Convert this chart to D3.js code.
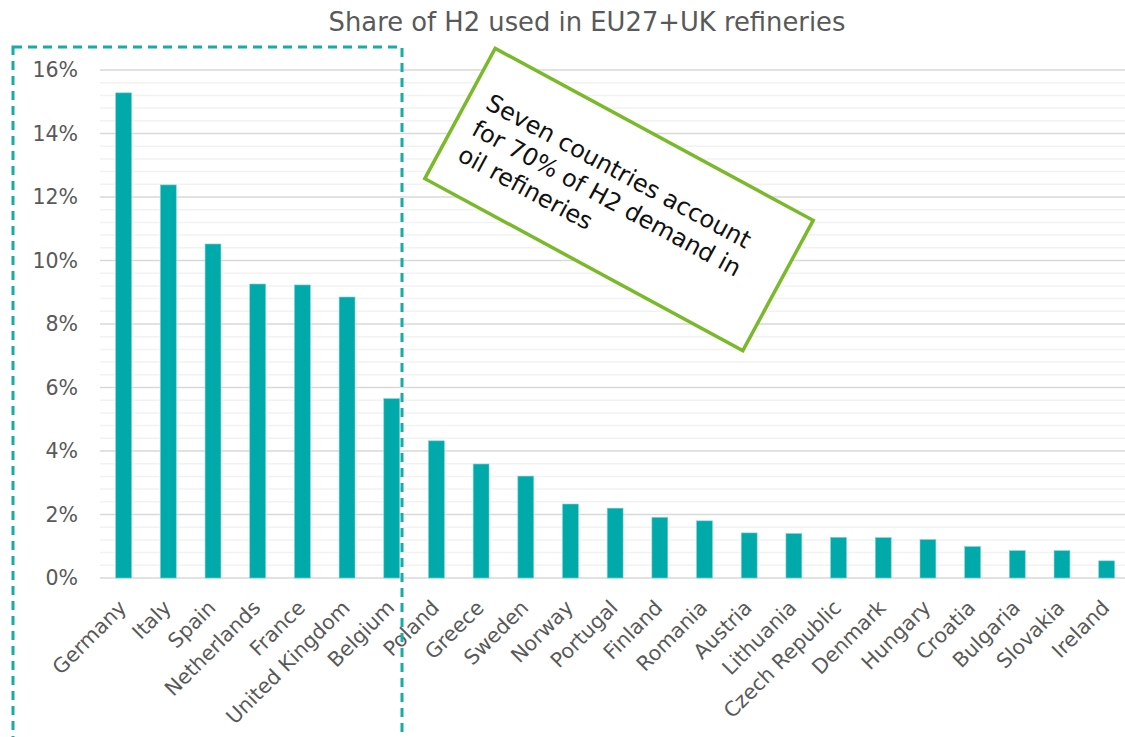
<!DOCTYPE html>
<html>
<head>
<meta charset="utf-8">
<script src="https://cdn.jsdelivr.net/npm/d3@7/dist/d3.min.js"></script>
<style>
  html, body { margin: 0; padding: 0; background: #fff; }
  svg { display: block; font-family: "DejaVu Sans", Verdana, sans-serif; }
</style>
</head>
<body>
<svg id="chart" width="1125" height="737"></svg>
<script>
// Countries, ordered by share of refinery hydrogen demand
const countries = ["Germany", "Italy", "Spain", "Netherlands", "France", "United Kingdom", "Belgium",
  "Poland", "Greece", "Sweden", "Norway", "Portugal", "Finland", "Romania", "Austria", "Lithuania",
  "Czech Republic", "Denmark", "Hungary", "Croatia", "Bulgaria", "Slovakia", "Ireland"];
// Share of H2 used in refineries (percent)
const shares = [15.28, 12.38, 10.52, 9.26, 9.23, 8.85, 5.65,
  4.32, 3.59, 3.21, 2.33, 2.20, 1.91, 1.80, 1.42, 1.40,
  1.28, 1.27, 1.21, 0.99, 0.86, 0.86, 0.54];
// Axis ticks (percent)
const majorTicks = [0, 2, 4, 6, 8, 10, 12, 14, 16];
const minorTicks = d3.range(0, 16.01, 0.4);
const titleText = "Share of H2 used in EU27+UK refineries";
const noteLines = ["Seven countries account", "for 70% of H2 demand in", "oil refineries"];

const svg = d3.select("#chart");
const W = 1125, H = 737;
const plot = { left: 100, right: 1128, top: 70, bottom: 578 };

const x = d3.scaleBand()
  .domain(countries)
  .range([102.3, 1128])
  .paddingInner(0.645)
  .paddingOuter(0.3);

const y = d3.scaleLinear().domain([0, 16]).range([plot.bottom, plot.top]);

svg.append("rect").attr("width", W).attr("height", H).attr("fill", "#fff");

// Title
svg.append("text")
  .attr("x", 587).attr("y", 31)
  .attr("text-anchor", "middle")
  .attr("font-size", 25.8)
  .attr("fill", "#595959")
  .text(titleText);

// Minor gridlines
svg.append("g").selectAll("line")
  .data(minorTicks.filter(v => Math.abs(v / 2 - Math.round(v / 2)) > 1e-6))
  .join("line")
  .attr("x1", plot.left).attr("x2", W)
  .attr("y1", d => y(d)).attr("y2", d => y(d))
  .attr("stroke", "#f2f2f2").attr("stroke-width", 1.5);

// Major gridlines
svg.append("g").selectAll("line")
  .data(majorTicks)
  .join("line")
  .attr("x1", plot.left).attr("x2", W)
  .attr("y1", d => y(d)).attr("y2", d => y(d))
  .attr("stroke", "#d9d9d9").attr("stroke-width", 1.5);

// Y axis labels
const yAxis = d3.axisLeft(y)
  .tickValues(majorTicks)
  .tickFormat(d => d + "%")
  .tickSize(0)
  .tickPadding(0);
const yg = svg.append("g").attr("transform", "translate(78,0)").call(yAxis);
yg.select(".domain").remove();
yg.selectAll("text")
  .attr("font-size", 20.5)
  .attr("fill", "#595959")
  .attr("font-family", "DejaVu Sans, Verdana, sans-serif");

// Bars
svg.append("g").selectAll("rect")
  .data(countries.map((c, i) => ({ c, v: shares[i] })))
  .join("rect")
  .attr("x", d => x(d.c))
  .attr("width", x.bandwidth())
  .attr("y", d => y(d.v))
  .attr("height", d => y(0) - y(d.v))
  .attr("fill", "#00aaaa")
  .attr("stroke", "#7fd0d0")
  .attr("stroke-width", 0.6);

// X axis labels
const xAxis = d3.axisBottom(x).tickSize(0).tickPadding(0);
const xg = svg.append("g").attr("transform", `translate(0,${plot.bottom})`).call(xAxis);
xg.select(".domain").remove();
xg.selectAll("text")
  .attr("font-size", 20.5)
  .attr("fill", "#595959")
  .attr("font-family", "DejaVu Sans, Verdana, sans-serif")
  .attr("text-anchor", "end")
  .attr("dy", null)
  .attr("y", 0)
  .attr("transform", "translate(4,31) rotate(-45)");

// Dashed highlight around the top seven countries
svg.append("rect")
  .attr("x", 13).attr("y", 47)
  .attr("width", 389).attr("height", 740)
  .attr("fill", "none")
  .attr("stroke", "#17aca6")
  .attr("stroke-width", 3)
  .attr("stroke-dasharray", "9,6");

// Rotated note box
const note = svg.append("g").attr("transform", "translate(619,199.5) rotate(28.4)");
note.append("rect")
  .attr("x", -180.75).attr("y", -74)
  .attr("width", 361.5).attr("height", 148)
  .attr("fill", "#fff")
  .attr("stroke", "#7ab929")
  .attr("stroke-width", 3.5);
note.append("text")
  .attr("font-size", 24)
  .attr("fill", "#111")
  .selectAll("tspan")
  .data(noteLines)
  .join("tspan")
  .attr("x", -162)
  .attr("y", (d, i) => -16.5 + i * 29.5)
  .text(d => d);
</script>
</body>
</html>
